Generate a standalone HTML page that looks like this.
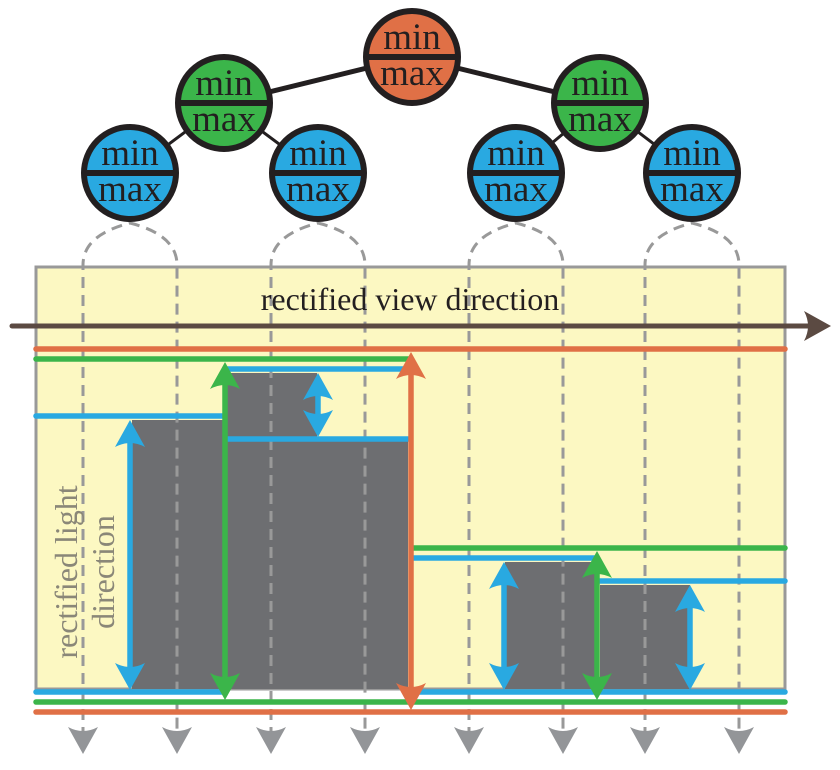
<!DOCTYPE html>
<html><head><meta charset="utf-8"><style>body{margin:0;background:#fff}svg{display:block}</style></head><body>
<svg width="840" height="770" viewBox="0 0 840 770" xmlns="http://www.w3.org/2000/svg" font-family="Liberation Serif, serif">
<defs>
<path id="au" d="M0,0 L15,27 Q0,19 -15,27 Z"/>
<path id="ad" d="M0,0 L15,-27 Q0,-19 -15,-27 Z"/>
</defs>
<rect x="36" y="267" width="749" height="422" fill="#fcf8c2" stroke="#999" stroke-width="3"/>
<g fill="#6d6e71">
<rect x="132" y="420" width="92" height="269"/>
<rect x="226" y="373" width="91" height="70"/>
<rect x="226" y="441" width="182" height="248"/>
<rect x="505" y="562" width="93" height="127"/>
<rect x="600" y="585" width="90" height="104"/>
</g>
<g fill="none" stroke="#999" stroke-width="3" stroke-dasharray="11 7">
<path d="M83,738 V265 Q83,235 130,223 Q177,235 177,265 V738"/>
<path d="M271,738 V265 Q271,235 318,223 Q365,235 365,265 V738"/>
<path d="M469,738 V265 Q469,235 516,223 Q563,235 563,265 V738"/>
<path d="M645,738 V265 Q645,235 692,223 Q739,235 739,265 V738"/>
</g>
<g fill="#939598">
<use href="#ad" x="83" y="754"/><use href="#ad" x="177" y="754"/><use href="#ad" x="271" y="754"/><use href="#ad" x="365" y="754"/>
<use href="#ad" x="469" y="754"/><use href="#ad" x="563" y="754"/><use href="#ad" x="645" y="754"/><use href="#ad" x="739" y="754"/>
</g>
<text x="410" y="310" font-size="32" text-anchor="middle" fill="#231f20">rectified view direction</text>
<line x1="12" y1="326" x2="812" y2="326" stroke="#5b4a42" stroke-width="5" stroke-linecap="round"/>
<path d="M831,326 L804,311 Q812,326 804,341 Z" fill="#5b4a42"/>
<g stroke-width="5.5" stroke-linecap="round" fill="none">
<line x1="36" y1="349" x2="785" y2="349" stroke="#e07046"/>
<line x1="36" y1="359" x2="410" y2="359" stroke="#3bb54a"/>
<line x1="36" y1="416" x2="222" y2="416" stroke="#29a9e1"/>
<line x1="226" y1="369" x2="408" y2="369" stroke="#29a9e1"/>
<line x1="226" y1="439" x2="408" y2="439" stroke="#29a9e1"/>
<line x1="413" y1="548" x2="785" y2="548" stroke="#3bb54a"/>
<line x1="413" y1="558" x2="597" y2="558" stroke="#29a9e1"/>
<line x1="600" y1="581" x2="785" y2="581" stroke="#29a9e1"/>
<line x1="36" y1="692" x2="222" y2="692" stroke="#29a9e1"/>
<line x1="413" y1="692" x2="785" y2="692" stroke="#29a9e1"/>
<line x1="36" y1="702" x2="785" y2="702" stroke="#3bb54a"/>
<line x1="36" y1="712" x2="785" y2="712" stroke="#e07046"/>
</g>
<g stroke-width="5.5">
<line x1="130" y1="430" x2="130" y2="680" stroke="#29a9e1"/>
<line x1="225" y1="375" x2="225" y2="690" stroke="#3bb54a"/>
<line x1="318" y1="382" x2="318" y2="428" stroke="#29a9e1"/>
<line x1="411" y1="372" x2="411" y2="702" stroke="#e07046"/>
<line x1="504" y1="572" x2="504" y2="680" stroke="#29a9e1"/>
<line x1="597" y1="562" x2="597" y2="690" stroke="#3bb54a"/>
<line x1="690" y1="595" x2="690" y2="680" stroke="#29a9e1"/>
</g>
<g fill="#29a9e1">
<use href="#au" x="130" y="420"/><use href="#ad" x="130" y="690"/>
<use href="#au" x="318" y="373"/><use href="#ad" x="318" y="437"/>
<use href="#au" x="504" y="562"/><use href="#ad" x="504" y="690"/>
<use href="#au" x="690" y="585"/><use href="#ad" x="690" y="690"/>
</g>
<g fill="#3bb54a">
<use href="#au" x="225" y="362"/><use href="#ad" x="225" y="700"/>
<use href="#au" x="597" y="551"/><use href="#ad" x="597" y="700"/>
</g>
<g fill="#e07046">
<use href="#au" x="411" y="352"/><use href="#ad" x="411" y="710"/>
</g>
<g fill="#8a8778" font-size="32" text-anchor="middle">
<text transform="translate(77,572) rotate(-90)">rectified light</text>
<text transform="translate(114,572) rotate(-90)">direction</text>
</g>
<g stroke="#231f20" fill="none">
<line x1="224" y1="103" x2="412" y2="57" stroke-width="5"/>
<line x1="600" y1="103" x2="412" y2="57" stroke-width="5"/>
<line x1="130" y1="173" x2="224" y2="103" stroke-width="3"/>
<line x1="318" y1="173" x2="224" y2="103" stroke-width="3"/>
<line x1="516" y1="173" x2="600" y2="103" stroke-width="3"/>
<line x1="692" y1="173" x2="600" y2="103" stroke-width="3"/>
</g>
<g font-size="37" text-anchor="middle" fill="#231f20">
<g transform="translate(412,57)"><circle r="46" fill="#e07046" stroke="#231f20" stroke-width="6"/><line x1="-46" x2="46" stroke="#231f20" stroke-width="6"/><text y="-8">min</text><text y="28">max</text></g>
<g transform="translate(224,103)"><circle r="46" fill="#3bb54a" stroke="#231f20" stroke-width="6"/><line x1="-46" x2="46" stroke="#231f20" stroke-width="6"/><text y="-8">min</text><text y="28">max</text></g>
<g transform="translate(600,103)"><circle r="46" fill="#3bb54a" stroke="#231f20" stroke-width="6"/><line x1="-46" x2="46" stroke="#231f20" stroke-width="6"/><text y="-8">min</text><text y="28">max</text></g>
<g transform="translate(130,173)"><circle r="46" fill="#29a9e1" stroke="#231f20" stroke-width="6"/><line x1="-46" x2="46" stroke="#231f20" stroke-width="6"/><text y="-8">min</text><text y="28">max</text></g>
<g transform="translate(318,173)"><circle r="46" fill="#29a9e1" stroke="#231f20" stroke-width="6"/><line x1="-46" x2="46" stroke="#231f20" stroke-width="6"/><text y="-8">min</text><text y="28">max</text></g>
<g transform="translate(516,173)"><circle r="46" fill="#29a9e1" stroke="#231f20" stroke-width="6"/><line x1="-46" x2="46" stroke="#231f20" stroke-width="6"/><text y="-8">min</text><text y="28">max</text></g>
<g transform="translate(692,173)"><circle r="46" fill="#29a9e1" stroke="#231f20" stroke-width="6"/><line x1="-46" x2="46" stroke="#231f20" stroke-width="6"/><text y="-8">min</text><text y="28">max</text></g>
</g>
</svg>
</body></html>
